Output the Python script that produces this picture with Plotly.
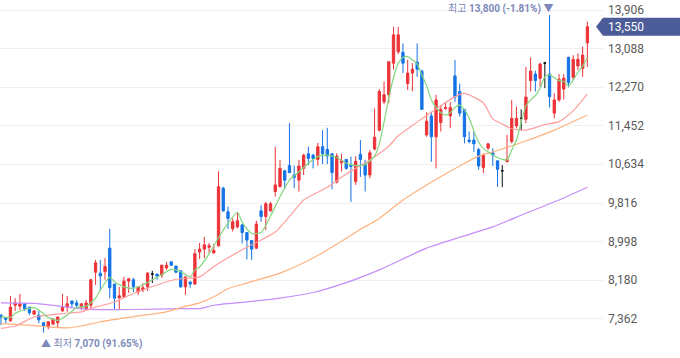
import plotly.graph_objects as go

# ---- candle data (index = trading day, left to right) ----
opens = [7440, 7390, 7320, 7650, 7630, 7680, 7610, 7460, 7440, 7280,
         7190, 7250, 7280, 7530, 7610, 7740, 7700, 7610, 7570, 7650,
         8350, 8330, 8360, 8860, 8100, 7810, 7830, 8160, 8190, 7930,
         7970, 8040, 8310, 8310, 8290, 8440, 8570, 8480, 8380, 8040,
         8140, 8100, 8780, 8840, 8880, 8760, 8910, 10130, 9630, 9270,
         9310, 9350, 9190, 9020, 8860, 9650, 9530, 9650, 10060, 10160,
         10500, 10610, 10410, 10300, 10550, 10860, 10830, 10740, 11010, 10950,
         10860, 10260, 10670, 10740, 10620, 10270, 10850, 10660, 10410, 10960,
         11360, 11960, 12110, 12780, 13020, 13010, 12350, 12570, 12800, 12610,
         11260, 11660, 11220, 11520, 11820, 11660, 12510, 12180, 11800, 11150,
         11150, 10950, 10570, 10980, 10880, 10710, 10500, 10690, 11120, 11450,
         11610, 11590, 12410, 12550, 12460, 12780, 12550, 11720, 12000, 12230,
         12900, 12480, 12720, 12670, 13210]
highs = [7460, 7400, 7850, 7800, 7890, 7690, 7610, 7550, 7530, 7280,
         7300, 7370, 7410, 7890, 7850, 7740, 7760, 7690, 7760, 8210,
         8610, 8610, 8650, 9270, 8100, 8040, 8250, 8230, 8230, 8040,
         8120, 8350, 8380, 8310, 8500, 8570, 8570, 8480, 8380, 8250,
         8160, 8840, 8970, 9100, 8970, 8950, 10490, 10160, 9740, 9490,
         9610, 9370, 9190, 9030, 9440, 9770, 9840, 9840, 11010, 10730,
         10520, 11510, 10610, 10730, 10860, 11010, 10860, 11090, 11360, 11410,
         10860, 10870, 10860, 10740, 10800, 10810, 11150, 10730, 10940, 11820,
         12230, 12390, 12810, 13550, 13550, 13200, 12850, 12780, 13200, 12640,
         11740, 11740, 12110, 11890, 11960, 11960, 12850, 12350, 11800, 11330,
         11330, 10980, 10870, 11090, 10980, 10710, 10620, 11260, 12000, 11860,
         11800, 12700, 12900, 12620, 12790, 12810, 13800, 12140, 12550, 12550,
         12920, 12950, 12990, 13130, 13660]
lows = [7230, 7270, 7300, 7530, 7550, 7530, 7440, 7440, 7270, 7070,
        7140, 7230, 7170, 7510, 7510, 7610, 7610, 7550, 7550, 7570,
        8080, 7970, 8190, 7800, 7550, 7550, 7800, 7910, 7930, 7870,
        7930, 7950, 8120, 8190, 8230, 8400, 8480, 8330, 8020, 7870,
        8020, 8080, 8630, 8650, 8760, 8740, 8890, 9630, 9270, 9210,
        9280, 8960, 8620, 8610, 8840, 9420, 9240, 9630, 9950, 10160,
        10110, 10460, 10130, 10060, 10410, 10620, 10550, 10610, 10640, 10640,
        10110, 10230, 10480, 10520, 9840, 10200, 10370, 10060, 10340, 10930,
        11330, 11910, 11930, 12640, 12970, 12570, 12210, 12180, 12490, 11790,
        11220, 10690, 10550, 11330, 11790, 11400, 11960, 11650, 11080, 11080,
        10900, 10520, 10450, 10940, 10600, 10160, 10150, 10690, 11080, 11400,
        11350, 11510, 12180, 12180, 12270, 12250, 11840, 11610, 11960, 12010,
        12270, 12420, 12640, 12490, 12700]
closes = [7400, 7350, 7610, 7700, 7680, 7570, 7490, 7530, 7340, 7210,
          7300, 7360, 7400, 7610, 7680, 7680, 7650, 7680, 7700, 8190,
          8550, 8270, 8470, 8020, 7800, 7850, 8160, 8210, 8040, 8040,
          8020, 8330, 8310, 8270, 8500, 8500, 8500, 8350, 8040, 8250,
          8100, 8740, 8840, 8930, 8910, 8810, 10160, 9650, 9490, 9420,
          9440, 9190, 9030, 8840, 9370, 9530, 9800, 9800, 10200, 10550,
          10300, 10460, 10360, 10600, 10830, 10760, 10760, 11010, 10860, 10810,
          10460, 10810, 10710, 10550, 10590, 10700, 10740, 10410, 10880, 11210,
          12180, 12110, 12810, 13380, 13380, 12780, 12570, 12650, 12650, 11800,
          11550, 11220, 12000, 11800, 11840, 11840, 12060, 11720, 11220, 11120,
          11070, 10600, 10830, 11070, 10830, 10530, 10500, 10740, 11610, 11610,
          11610, 12060, 12610, 12410, 12760, 12780, 12070, 12000, 12440, 12460,
          12370, 12860, 12860, 12950, 13550]

# ---- moving averages (day index, price) ----
ma5_idx = [0, 2, 3, 5, 7, 8, 10, 12, 14, 16, 18, 20, 21, 23, 24, 26, 28, 30, 32, 34,
           36, 38, 40, 41, 42, 44, 46, 48, 50, 51, 53, 55, 57, 59, 61, 63, 65, 67, 69, 71,
           73, 75, 77, 79, 80, 81, 82, 83, 84, 85, 86, 87, 88, 89, 90, 91, 92, 93, 94, 95,
           96, 97, 98, 99, 100, 101, 102, 103, 104, 105, 106, 107, 108, 109, 110, 111, 112,
           113, 114, 115, 116, 117, 118, 119, 120, 121, 122, 123, 124]
ma5_val = [7410, 7390, 7480, 7560, 7600, 7550, 7390, 7330, 7440, 7600, 7630, 7800, 7970,
           8240, 8150, 8040, 8010, 8080, 8190, 8300, 8410, 8360, 8250, 8400, 8460, 8740,
           9080, 9390, 9620, 9410, 9170, 9190, 9540, 9950, 10300, 10480, 10660, 10800,
           10830, 10780, 10660, 10610, 10630, 10810, 11070, 11530, 12040, 12470, 12780,
           12900, 12920, 12850, 12760, 12530, 12300, 12000, 11850, 11730, 11680, 11730,
           11840, 11890, 11790, 11620, 11340, 11110, 10970, 10900, 10830, 10780, 10740,
           10730, 10940, 11150, 11530, 11870, 12000, 12090, 12250, 12490, 12530, 12470,
           12410, 12390, 12300, 12420, 12590, 12720, 12900]
ma20_idx = [0, 3, 7, 10, 14, 17, 20, 24, 28, 33, 37, 42, 45, 50, 54, 58, 62, 64, 69, 73,
            78, 82, 84, 88, 92, 96, 98, 100, 102, 104, 106, 108, 111, 115, 118, 121, 124]
ma20_val = [7160, 7210, 7400, 7440, 7480, 7510, 7610, 7720, 7900, 8080, 8200, 8250, 8470,
            8770, 8980, 9200, 9650, 9880, 10150, 10430, 10730, 11020, 11240, 11530, 11810,
            12070, 12140, 12060, 11940, 11600, 11490, 11390, 11360, 11480, 11540, 11770, 12130]
ma60_idx = [0, 7, 10, 14, 17, 21, 28, 35, 38, 42, 45, 48, 52, 59, 66, 73, 76, 80, 85, 90,
            97, 101, 105, 111, 117, 124]
ma60_val = [7260, 7220, 7190, 7170, 7210, 7300, 7410, 7510, 7600, 7700, 7830, 8000, 8120,
            8330, 8650, 9070, 9260, 9490, 9880, 10200, 10600, 10810, 10930, 11130, 11360, 11680]
ma120_idx = [0, 7, 14, 19, 28, 38, 42, 45, 52, 59, 66, 73, 80, 90, 97, 104, 111, 118, 124]
ma120_val = [7700, 7690, 7610, 7560, 7560, 7580, 7580, 7650, 7720, 7800, 7920, 8130, 8400,
             8860, 9090, 9310, 9600, 9880, 10150]

y_ticks = [7362, 8180, 8998, 9816, 10634, 11452, 12270, 13088, 13906]
last_price = 13550
high_price, high_day, high_pct = 13800, 116, "-1.81%"
low_price, low_day, low_pct = 7070, 9, "91.65%"

RED = "#ec3338"
BLUE = "#1473e6"
BLACK = "#111111"
LABEL = "#7c89ba"
NUMFONT = "Roboto, Noto Sans CJK KR, sans-serif"

n = len(opens)
groups = {"up": [], "down": [], "flat": []}
for i in range(n):
    if closes[i] > opens[i]:
        groups["up"].append(i)
    elif closes[i] < opens[i]:
        groups["down"].append(i)
    else:
        groups["flat"].append(i)

fig = go.Figure()
for key, col in (("up", RED), ("down", BLUE), ("flat", BLACK)):
    idx = groups[key]
    fig.add_trace(go.Candlestick(
        x=idx,
        open=[opens[i] for i in idx],
        high=[highs[i] for i in idx],
        low=[lows[i] for i in idx],
        close=[closes[i] for i in idx],
        increasing=dict(line=dict(color=col, width=1), fillcolor=col),
        decreasing=dict(line=dict(color=col, width=1), fillcolor=col),
        whiskerwidth=0,
        hoverinfo="skip",
        showlegend=False,
    ))

for xs, ys, col in ((ma120_idx, ma120_val, "#c48dfa"),
                    (ma60_idx, ma60_val, "#ffb27d"),
                    (ma20_idx, ma20_val, "#ff9f9f"),
                    (ma5_idx, ma5_val, "#84d67c")):
    fig.add_trace(go.Scatter(x=xs, y=ys, mode="lines",
                             line=dict(color=col, width=1.2, shape="spline", smoothing=0.6),
                             hoverinfo="skip", showlegend=False))

fig.update_layout(
    width=680, height=358,
    margin=dict(l=0, r=77, t=0, b=0, autoexpand=False),
    paper_bgcolor="white", plot_bgcolor="white",
    showlegend=False,
    boxgap=0.3,
    xaxis=dict(range=[-0.21, 127.3], showgrid=False, showticklabels=False,
               zeroline=False, showline=False, ticks="", rangeslider=dict(visible=False)),
    yaxis=dict(range=[6532, 14118], side="right", tickvals=y_ticks,
               showticklabels=False,
               showgrid=True, gridcolor="#efefef", gridwidth=1,
               zeroline=False, showline=False, ticks="", automargin=False),
    font=dict(family="Noto Sans CJK KR, Noto Sans, sans-serif"),
)

# y tick labels (left aligned, right of the plot)
for v in y_ticks:
    fig.add_annotation(x=1, xref="paper", y=v, yref="y", xanchor="left",
                       yanchor="middle", xshift=3, showarrow=False,
                       text=f"{v:,}",
                       font=dict(family=NUMFONT, size=12, color="#5a5a5a"))

# current price tag
fig.add_shape(type="path", xref="paper", yref="y",
              xsizemode="pixel", ysizemode="pixel", xanchor=1, yanchor=last_price,
              path="M -7,0 L 0,9 L 77,9 L 77,-9 L 0,-9 Z",
              fillcolor="#4b5c99", line=dict(width=0), layer="above")
fig.add_annotation(x=1, xref="paper", y=last_price, yref="y", xanchor="left",
                   yanchor="middle", xshift=3, showarrow=False,
                   text=f"{last_price:,}",
                   font=dict(family=NUMFONT, size=12, color="white"))

# high / low labels
fig.add_annotation(x=high_day, y=high_price, xref="x", yref="y", xanchor="right",
                   yanchor="middle", xshift=5, yshift=6, showarrow=False,
                   text=f"최고 <b>{high_price:,} ({high_pct})</b> ▼",
                   font=dict(family=NUMFONT, size=10, color=LABEL))
fig.add_annotation(x=low_day, y=low_price, xref="x", yref="y", xanchor="left",
                   yanchor="middle", xshift=-5, yshift=-11, showarrow=False,
                   text=f"▲ 최저 <b>{low_price:,} ({low_pct})</b>",
                   font=dict(family=NUMFONT, size=10, color=LABEL))

fig.write_html("out.html", config={"displayModeBar": False},
               post_script="document.body.style.margin='0';")
